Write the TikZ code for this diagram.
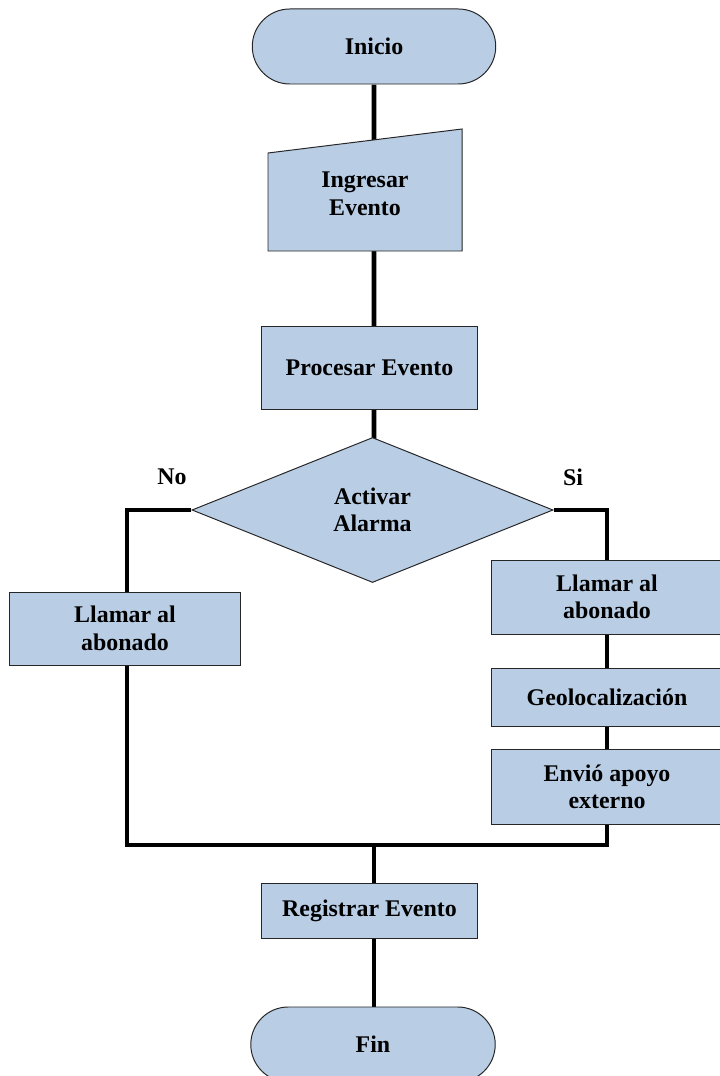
\documentclass[tikz,border=0pt]{standalone}
\usepackage{fontspec}
\setmainfont{Liberation Serif}
\usetikzlibrary{shapes.geometric,shapes.misc,positioning}
\pgfdeclarelayer{background}
\pgfsetlayers{background,main}
\definecolor{cajaazul}{HTML}{B9CDE5}

\begin{document}
\begin{tikzpicture}[x=0.025cm,y=-0.025cm,
  texto/.style={font=\bfseries\fontsize{17}{19.5}\selectfont,align=center},
  caja/.style={texto,rectangle,draw=black!85,line width=0.7pt,fill=cajaazul,inner sep=2pt},
  terminal/.style={caja,rounded rectangle,minimum width=6.225cm,minimum height=1.875cm},
  decision/.style={caja,diamond,aspect=2.5,inner sep=0pt,minimum width=9.025cm,minimum height=3.625cm},
  linea/.style={line width=3.5pt}]

  \useasboundingbox (0,0) rectangle (720,1076);

  % Nodos
  \node[terminal] (inicio) at (374,46.5) {Inicio};
  \filldraw[fill=cajaazul,draw=black!85,line width=0.7pt]
    (268,153) -- (462,129) -- (462,251) -- (268,251) -- cycle;
  \node[texto] (ingresar) at (365,194) {Ingresar\\Evento};
  \node[caja,minimum width=5.375cm,minimum height=2.05cm] (procesar) at (369.5,368) {Procesar Evento};
  \node[decision] (activar) at (372.5,510) {Activar\\Alarma};
  \node[texto] (no) at (172,477) {No};
  \node[texto] (si) at (573,477) {Si};

  \node[caja,minimum width=5.75cm,minimum height=1.825cm] (llamarNo) at (125,628.5) {Llamar al\\abonado};
  \node[caja,minimum width=5.75cm,minimum height=1.85cm] (llamarSi) at (607,597) {Llamar al\\abonado};
  \node[caja,minimum width=5.75cm,minimum height=1.45cm,below=0.825cm of llamarSi] (geo) {Geolocalización};
  \node[caja,minimum width=5.75cm,minimum height=1.875cm,below=0.55cm of geo] (envio) {Envió apoyo\\externo};

  \node[caja,minimum width=5.375cm,minimum height=1.375cm] (registrar) at (369.5,910.5) {Registrar Evento};
  \node[terminal,minimum width=6.25cm] (fin) at (373,1044.5) {Fin};

  \coordinate (unionI) at (127,845);
  \coordinate (unionD) at (607,845);
  \coordinate (unionC) at (374,845);

  % Conexiones
  \begin{pgfonlayer}{background}
    \draw[linea] (inicio) -- (inicio |- activar);
    \draw[linea] (activar.west) -| (unionI) -- (unionD) |- (activar.east);
    \draw[linea] (unionC) -- (unionC |- fin);
  \end{pgfonlayer}

\end{tikzpicture}
\end{document}
